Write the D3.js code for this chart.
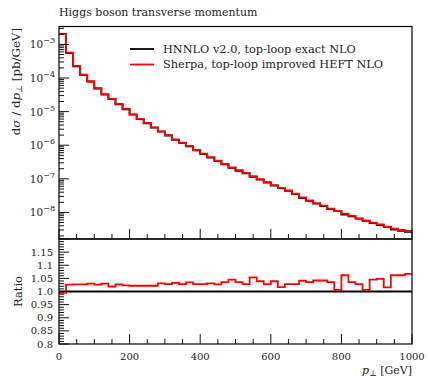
<!DOCTYPE html>
<html><head><meta charset="utf-8">
<script src="https://cdn.jsdelivr.net/npm/d3@7"></script>
<style>
html,body{margin:0;padding:0;background:#fff;}
svg{display:block;}
text{font-family:"DejaVu Serif","Liberation Serif",serif;fill:#222;}
</style></head>
<body>
<svg id="c" width="427" height="377"></svg>
<script>
// ---- data ----
const binEdges = [0,20,40,60,80,100,120,140,160,180,200,220,240,260,280,300,320,340,360,380,400,
  420,440,460,480,500,520,540,560,580,600,620,640,660,680,700,720,740,760,780,800,
  820,840,860,880,900,920,940,960,980,1000];
// Sherpa, top-loop improved HEFT NLO  (dsigma/dpT, pb/GeV)
const sherpaValues = [2.06e-3,5.7e-4,2.3e-4,1.26e-4,8.0e-5,5.0e-5,3.3e-5,2.4e-5,1.7e-5,1.2e-5,
  8.3e-6,6.1e-6,4.6e-6,3.4e-6,2.6e-6,2.0e-6,1.5e-6,1.2e-6,9.5e-7,7.2e-7,
  5.6e-7,4.4e-7,3.5e-7,2.8e-7,2.2e-7,1.8e-7,1.5e-7,1.2e-7,9.8e-8,8.0e-8,
  6.5e-8,5.4e-8,4.5e-8,3.6e-8,2.8e-8,2.3e-8,1.9e-8,1.6e-8,1.3e-8,1.1e-8,
  9.2e-9,7.9e-9,6.7e-9,5.7e-9,5.0e-9,4.4e-9,3.8e-9,3.3e-9,3.0e-9,2.8e-9];
// Ratio Sherpa / HNNLO
const ratioValues = [0.995,1.026,1.027,1.027,1.030,1.026,1.030,1.019,1.027,1.023,
  1.022,1.022,1.022,1.022,1.031,1.028,1.033,1.028,1.035,1.028,
  1.028,1.031,1.027,1.036,1.045,1.036,1.028,1.054,1.039,1.028,
  1.039,1.017,1.028,1.028,1.041,1.036,1.042,1.042,1.036,1.006,
  1.062,1.036,1.028,1.006,1.045,1.048,1.016,1.062,1.062,1.067];
const seriesNames = ["HNNLO v2.0, top-loop exact NLO","Sherpa, top-loop improved HEFT NLO"];
const seriesColors = ["#000000","#ff0000"];
const xTicks = [0,200,400,600,800,1000];
const yDecades = [-8,-7,-6,-5,-4,-3];
const ratioTicks = [0.8,0.85,0.9,0.95,1.0,1.05,1.1,1.15];
const ratioTickLabels = ["0.8","0.85","0.9","0.95","1.0","1.05","1.1","1.15"];

// HNNLO reference derived from Sherpa and ratio
const hnnloValues = sherpaValues.map((v,i)=>v/ratioValues[i]);

// ---- layout ----
const L=59, R=412, T=26.5, M=239, B=344;
const svg = d3.select("#c");
const x = d3.scaleLinear().domain([0,1000]).range([L,R]);
const y = d3.scaleLog().domain([1.62e-9,3.41e-3]).range([M,T]);
const yr = d3.scaleLinear().domain([0.8,1.2]).range([B,M]);

function stepPts(vals){
  const pts=[];
  vals.forEach((v,i)=>{pts.push([binEdges[i],v]);pts.push([binEdges[i+1],v]);});
  return pts;
}
const lineMain = d3.line().x(d=>x(d[0])).y(d=>y(d[1]));
const lineRatio = d3.line().x(d=>x(d[0])).y(d=>yr(d[1]));

// main curves
svg.append("path").attr("d",lineMain(stepPts(hnnloValues))).attr("fill","none")
  .attr("stroke",seriesColors[0]).attr("stroke-width",1.8);
svg.append("path").attr("d",lineMain(stepPts(sherpaValues))).attr("fill","none")
  .attr("stroke",seriesColors[1]).attr("stroke-width",1.8);

// ratio curves
svg.append("path").attr("d",lineRatio([[0,1],[1000,1]])).attr("fill","none")
  .attr("stroke",seriesColors[0]).attr("stroke-width",1.8);
svg.append("path").attr("d",lineRatio(stepPts(ratioValues))).attr("fill","none")
  .attr("stroke",seriesColors[1]).attr("stroke-width",1.8);

// frames
svg.append("rect").attr("x",L).attr("y",T).attr("width",R-L).attr("height",M-T)
  .attr("fill","none").attr("stroke","#000").attr("stroke-width",1.2);
svg.append("rect").attr("x",L).attr("y",M).attr("width",R-L).attr("height",B-M)
  .attr("fill","none").attr("stroke","#000").attr("stroke-width",1.2);

const tg = svg.append("g").attr("stroke","#111").attr("stroke-width",1);
// x ticks on both panels
const xMinor = d3.range(0,1001,50);
[M,B].forEach(by=>{
  xMinor.forEach(v=>{
    const maj = xTicks.includes(v);
    tg.append("line").attr("x1",x(v)).attr("x2",x(v)).attr("y1",by).attr("y2",by-(maj?10:5));
  });
});
// main y ticks
yDecades.forEach(d=>{
  const v=Math.pow(10,d);
  tg.append("line").attr("x1",L).attr("x2",L+10).attr("y1",y(v)).attr("y2",y(v));
});
for(let d=-9; d<=-3; d++){
  for(let k=2;k<=9;k++){
    const v=k*Math.pow(10,d);
    if(v<y.domain()[0]||v>y.domain()[1]) continue;
    tg.append("line").attr("x1",L).attr("x2",L+5).attr("y1",y(v)).attr("y2",y(v));
  }
}
// ratio y ticks
for(let i=80;i<=120;i++){
  const v=i/100;
  const maj = (i%5===0);
  tg.append("line").attr("x1",L).attr("x2",L+(maj?10:5)).attr("y1",yr(v)).attr("y2",yr(v));
}

// tick labels
yDecades.forEach(d=>{
  const t=svg.append("text").attr("x",55).attr("y",y(Math.pow(10,d))+4)
    .attr("text-anchor","end").attr("font-size",10.5);
  t.append("tspan").text("10");
  t.append("tspan").attr("dy",-5).attr("font-size",8).text("\u2212"+Math.abs(d));
});
ratioTicks.forEach((v,i)=>{
  svg.append("text").attr("x",53).attr("y",yr(v)+3.5).attr("text-anchor","end")
    .attr("font-size",10).text(ratioTickLabels[i]);
});
xTicks.forEach(v=>{
  svg.append("text").attr("x",x(v)).attr("y",360).attr("text-anchor","middle")
    .attr("font-size",10).text(v);
});

// axis titles
const xl = svg.append("text").attr("x",R).attr("y",374).attr("text-anchor","end").attr("font-size",11);
xl.append("tspan").attr("font-style","italic").text("p");
xl.append("tspan").attr("dy",2).attr("font-size",8).text("\u22A5");
xl.append("tspan").attr("dy",-2).text(" [GeV]");

const yl = svg.append("text").attr("transform","translate(20,28) rotate(-90)")
  .attr("text-anchor","end").attr("font-size",11.8);
yl.append("tspan").text("d");
yl.append("tspan").attr("font-style","italic").text("\u03C3");
yl.append("tspan").text(" / d");
yl.append("tspan").attr("font-style","italic").text("p");
yl.append("tspan").attr("dy",2).attr("font-size",8.5).text("\u22A5");
yl.append("tspan").attr("dy",-2).text(" [pb/GeV]");

svg.append("text").attr("transform","translate(22,291.5) rotate(-90)")
  .attr("text-anchor","middle").attr("font-size",11.5).text("Ratio");

// title
svg.append("text").attr("x",59).attr("y",16).attr("font-size",11)
  .text("Higgs boson transverse momentum");

// legend
seriesNames.forEach((n,i)=>{
  const ly = 49 + i*15.5;
  svg.append("line").attr("x1",130).attr("x2",154).attr("y1",ly).attr("y2",ly)
    .attr("stroke",seriesColors[i]).attr("stroke-width",1.8);
  svg.append("text").attr("x",163).attr("y",ly+3.5).attr("font-size",11.3).text(n);
});
</script>
</body></html>
